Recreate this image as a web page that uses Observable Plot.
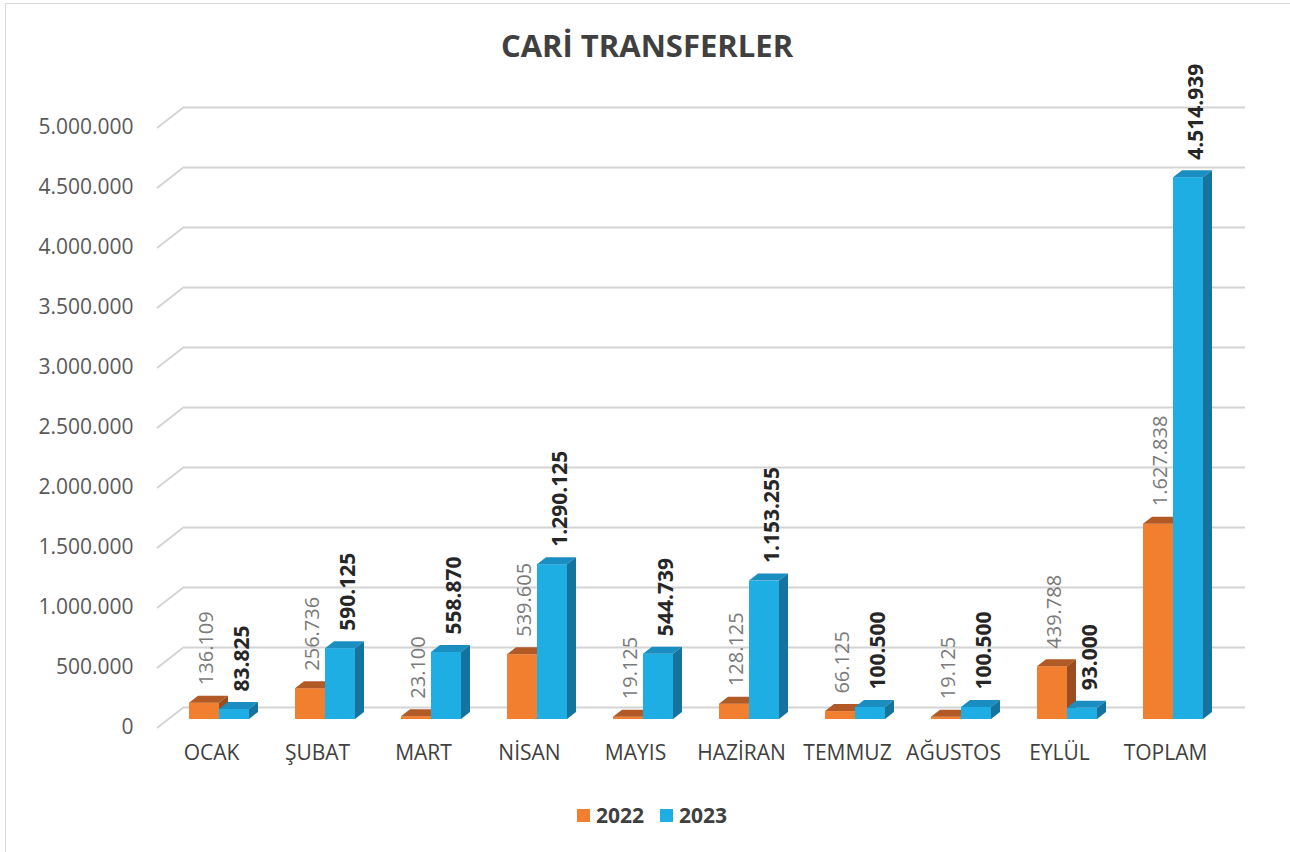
<!DOCTYPE html>
<html><head><meta charset="utf-8">
<script src="https://cdn.jsdelivr.net/npm/d3@7"></script>
<script src="https://cdn.jsdelivr.net/npm/@observablehq/plot@0.6"></script>
<style>
body{margin:0;background:#fff;font-family:"Open Sans",sans-serif;}
#frame{position:absolute;left:5px;top:3px;width:1300px;height:900px;border-left:1px solid #d9d9d9;border-top:1px solid #d9d9d9;box-sizing:border-box;}
#wrap{position:relative;width:1290px;}
#title{height:60px;box-sizing:border-box;padding-top:25px;padding-left:4px;text-align:center;font-size:31px;font-weight:700;color:#404040;line-height:40px;}
#chart svg{display:block;overflow:visible;}
#legend{height:50px;display:flex;justify-content:center;align-items:center;padding-left:14px;font-size:21px;font-weight:700;color:#404040;}
#legend .item{display:flex;align-items:center;margin:0 8px;}
#legend .sw{width:13px;height:13px;margin-right:6px;}
</style>
</head><body>
<div id="frame"></div>
<div id="wrap">
<div id="title">CARİ TRANSFERLER</div>
<div id="chart"></div>
<div id="legend"></div>
</div>
<script>
const categories = ["OCAK","ŞUBAT","MART","NİSAN","MAYIS","HAZİRAN","TEMMUZ","AĞUSTOS","EYLÜL","TOPLAM"];
const values2022 = [136109,256736,23100,539605,19125,128125,66125,19125,439788,1627838];
const values2023 = [83825,590125,558870,1290125,544739,1153255,100500,100500,93000,4514939];
const yTicks = [0,500000,1000000,1500000,2000000,2500000,3000000,3500000,4000000,4500000,5000000];
const seriesNames = ["2022","2023"];
const seriesColors = {"2022": {front:"#F27E2F", top:"#B15A26", side:"#9A4D1E"},
                      "2023": {front:"#1EAEE3", top:"#1B8EC1", side:"#14749E"}};

const fmt = d3.formatLocale({decimal:",", thousands:".", grouping:[3], currency:["",""]}).format(",d");
const d2022 = categories.map((c,i)=>({cat:c, value:values2022[i]}));
const d2023 = categories.map((c,i)=>({cat:c, value:values2023[i]}));

const W = 1290, H = 730;
const plot = Plot.plot({
  width: W, height: H,
  marginLeft: 165, marginRight: 64, marginTop: 59, marginBottom: 71,
  style: {fontFamily: "'Open Sans', sans-serif", fontSize: "20px", background: "transparent"},
  x: {domain: categories, paddingInner: 0.434, paddingOuter: 0.217, align: 0.5, axis: null},
  y: {domain: [0, 5000000], axis: null},
  marks: [
    Plot.ruleY(yTicks, {dx: 19, dy: -12, stroke: "#d4d4d4", strokeWidth: 2}),
    Plot.axisY(yTicks, {tickSize: 0, tickPadding: 32, dy: 8, tickFormat: fmt, color: "#595959", fontSize: 21, label: null}),
    Plot.axisX(categories, {tickSize: 0, tickPadding: 26, dx: -8, color: "#404040", fontSize: 21, label: null}),
    Plot.barY(d2022, {x: "cat", y: "value", fill: seriesColors["2022"].front, insetRight: 30}),
    Plot.barY(d2023, {x: "cat", y: "value", fill: seriesColors["2023"].front, insetLeft: 30}),
    Plot.text(d2022, {x: "cat", y: "value", text: d => fmt(d.value), rotate: -90, textAnchor: "start", dx: -13, dy: -18, fill: "#7a7a7a", fontSize: 20}),
    Plot.text(d2023, {x: "cat", y: "value", text: d => fmt(d.value), rotate: -90, textAnchor: "start", dx: 23, dy: -18, fill: "#262626", fontWeight: 700, fontSize: 21})
  ]
});
document.getElementById("chart").appendChild(plot);

// 3D decorations using the plot's own scales
const ys = plot.scale("y");
const svg = d3.select(plot);
const x0 = 165;
const diag = svg.insert("g", "g").attr("stroke", "#d4d4d4").attr("stroke-width", 2);
yTicks.forEach(v => {
  const yy = ys.apply(v);
  diag.append("line").attr("x1", x0 - 8).attr("y1", yy + 9).attr("x2", x0 + 19).attr("y2", yy - 12);
});
const DX = 9, DY = -7;
const barGroups = svg.selectAll('g[aria-label="bar"]').nodes();
seriesNames.forEach((s, si) => {
  const g = barGroups[si];
  if (!g) return;
  Array.from(g.querySelectorAll("rect")).forEach(r => {
    const x = +r.getAttribute("x"), y = +r.getAttribute("y"), w = +r.getAttribute("width"), h = +r.getAttribute("height");
    const top = [[x,y],[x+w,y],[x+w+DX,y+DY],[x+DX,y+DY]];
    const side = [[x+w,y],[x+w+DX,y+DY],[x+w+DX,y+h+DY],[x+w,y+h]];
    const par = r.parentNode;
    const mk = (pts, col) => {
      const p = document.createElementNS("http://www.w3.org/2000/svg", "polygon");
      p.setAttribute("points", pts.map(q => q.join(",")).join(" "));
      p.setAttribute("fill", col);
      return p;
    };
    par.insertBefore(mk(side, seriesColors[s].side), r.nextSibling);
    par.insertBefore(mk(top, seriesColors[s].top), r.nextSibling);
  });
});

// legend
const lg = d3.select("#legend");
seriesNames.forEach(s => {
  const it = lg.append("div").attr("class", "item");
  it.append("div").attr("class", "sw").style("background", seriesColors[s].front);
  it.append("span").text(s);
});
</script>
</body></html>
